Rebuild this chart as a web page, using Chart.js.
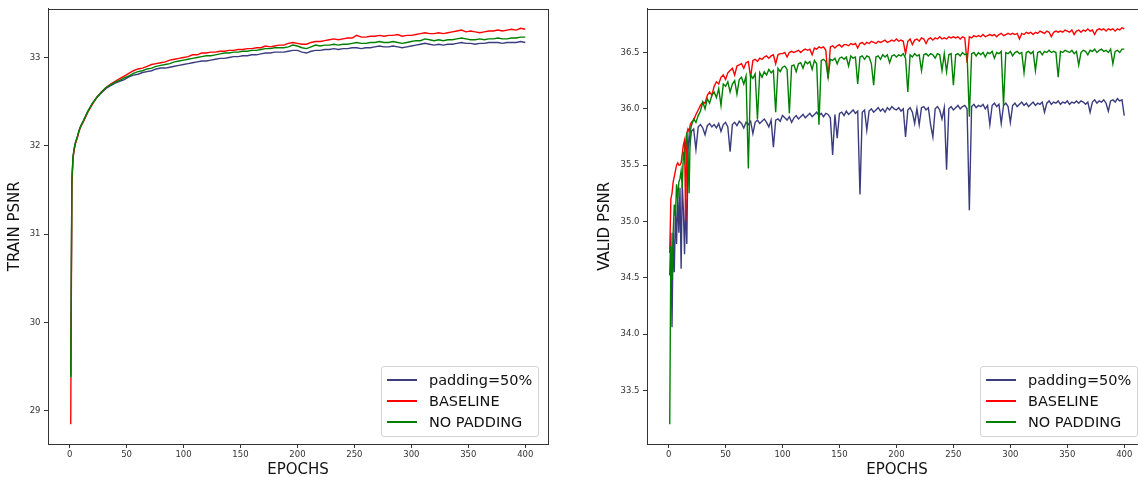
<!DOCTYPE html>
<html>
<head>
<meta charset="utf-8">
<script src="https://cdn.jsdelivr.net/npm/chart.js@4.4.1/dist/chart.umd.min.js"></script>
<style>
  html, body { margin:0; padding:0; background:#fff; width:1138px; height:477px; overflow:hidden; position:relative; }
  canvas { position:absolute; top:0; }
  .legend { position:absolute; border:1px solid #d4d4d4; border-radius:3px; background:rgba(255,255,255,0.85);
            font-family:'DejaVu Sans', sans-serif; font-size:14.5px; color:#111; box-sizing:border-box; }
  .legend .row { position:absolute; left:0; height:20px; white-space:nowrap; }
  .legend .swatch { position:absolute; left:5px; top:9px; width:30px; height:2px; }
  .legend .lbl { position:absolute; left:47px; top:1px; line-height:18px; }
</style>
</head>
<body>
<canvas id="trainChart" width="560" height="477" style="left:0px"></canvas>
<canvas id="validChart" width="570" height="477" style="left:590px"></canvas>
<div id="legTrain" class="legend" style="left:381px; top:366px; width:158px; height:71px;"></div>
<div id="legValid" class="legend" style="left:980px; top:366px; width:158px; height:71px;"></div>
<script>
// ---------- DATA ----------
const seriesNames = ['padding=50%', 'BASELINE', 'NO PADDING'];
const epochTicks = [0, 50, 100, 150, 200, 250, 300, 350, 400];
const trainTicks = [29, 30, 31, 32, 33];
const validTicks = [33.5, 34.0, 34.5, 35.0, 35.5, 36.0, 36.5];

const trainEpochs = [1,2,3,4,5,6,7,8,9,10,
 12,16,20,24,28,32,36,40,44,48,
 52,56,60,64,68,72,76,80,84,88,
 92,96,100,104,108,112,116,120,124,128,
 132,136,140,144,148,152,156,160,164,168,
 172,176,180,184,188,192,196,200,204,208,
 212,216,220,224,228,232,236,240,244,248,
 252,256,260,264,268,272,276,280,284,288,
 292,296,300,304,308,312,316,320,324,328,
 332,336,340,344,348,352,356,360,364,368,
 372,376,380,384,388,392,396,400];

const trainPadding50 = [29.40,31.60,31.87,31.96,32.03,32.07,32.11,32.16,32.20,32.23,
 32.28,32.39,32.48,32.55,32.60,32.65,32.68,32.71,32.73,32.75,
 32.78,32.80,32.81,32.83,32.84,32.85,32.87,32.88,32.88,32.89,
 32.90,32.91,32.92,32.93,32.94,32.95,32.96,32.96,32.97,32.98,
 32.99,32.99,33.00,33.01,33.01,33.02,33.02,33.03,33.03,33.04,
 33.05,33.05,33.06,33.06,33.06,33.07,33.08,33.08,33.06,33.05,
 33.07,33.08,33.08,33.09,33.09,33.10,33.09,33.10,33.10,33.11,
 33.11,33.10,33.11,33.11,33.12,33.13,33.12,33.12,33.13,33.12,
 33.11,33.12,33.13,33.14,33.15,33.16,33.15,33.14,33.15,33.14,
 33.15,33.15,33.16,33.17,33.16,33.16,33.15,33.16,33.16,33.17,
 33.17,33.17,33.16,33.17,33.17,33.17,33.18,33.17];

const trainBaseline = [28.85,31.55,31.86,31.95,32.02,32.06,32.10,32.15,32.19,32.22,
 32.27,32.38,32.47,32.55,32.61,32.66,32.70,32.73,32.76,32.79,
 32.82,32.85,32.87,32.88,32.90,32.92,32.93,32.94,32.95,32.97,
 32.98,32.99,33.00,33.01,33.03,33.03,33.05,33.05,33.06,33.06,
 33.07,33.07,33.08,33.08,33.09,33.09,33.10,33.10,33.11,33.11,
 33.13,33.12,33.13,33.14,33.14,33.16,33.17,33.16,33.15,33.15,
 33.17,33.18,33.18,33.19,33.20,33.21,33.20,33.21,33.22,33.22,
 33.25,33.23,33.23,33.24,33.24,33.25,33.24,33.25,33.25,33.26,
 33.24,33.25,33.25,33.26,33.27,33.28,33.27,33.27,33.28,33.27,
 33.28,33.29,33.30,33.31,33.29,33.30,33.29,33.28,33.29,33.30,
 33.30,33.31,33.30,33.31,33.32,33.31,33.33,33.32];

const trainNoPadding = [29.38,31.60,31.88,31.97,32.03,32.07,32.11,32.16,32.20,32.23,
 32.28,32.39,32.48,32.55,32.61,32.66,32.69,32.72,32.74,32.77,
 32.79,32.82,32.84,32.85,32.87,32.88,32.90,32.91,32.92,32.93,
 32.95,32.96,32.97,32.98,32.99,33.00,33.01,33.02,33.02,33.03,
 33.04,33.05,33.05,33.06,33.06,33.07,33.07,33.08,33.08,33.09,
 33.10,33.10,33.11,33.11,33.11,33.12,33.14,33.13,33.11,33.10,
 33.12,33.14,33.13,33.14,33.14,33.15,33.14,33.15,33.15,33.16,
 33.17,33.16,33.16,33.17,33.17,33.18,33.17,33.17,33.18,33.17,
 33.16,33.17,33.18,33.19,33.19,33.21,33.20,33.19,33.20,33.19,
 33.20,33.20,33.21,33.22,33.21,33.20,33.20,33.21,33.20,33.21,
 33.21,33.22,33.21,33.21,33.22,33.22,33.23,33.23];

const validEpochs = [1,2,3,4,5,6,7,8,9,10,11,12,13,14,15,16,17,18,19,20,
 22,24,26,28,30,32,34,36,38,40,42,44,46,48,50,52,54,56,58,60,
 62,64,66,68,70,72,74,76,78,80,82,84,86,88,90,92,94,96,98,100,
 102,104,106,108,110,112,114,116,118,120,122,124,126,128,130,132,134,136,138,140,
 142,144,146,148,150,152,154,156,158,160,162,164,166,168,170,172,174,176,178,180,
 182,184,186,188,190,192,194,196,198,200,
 202,204,206,208,210,212,214,216,218,220,222,224,226,228,230,232,234,236,238,240,
 242,244,246,248,250,252,254,256,258,260,262,264,266,268,270,272,274,276,278,280,
 282,284,286,288,290,292,294,296,298,300,
 302,304,306,308,310,312,314,316,318,320,322,324,326,328,330,332,334,336,338,340,
 342,344,346,348,350,352,354,356,358,360,362,364,366,368,370,372,374,376,378,380,
 382,384,386,388,390,392,394,396,398,400];

const validPadding50 = [34.52,34.90,34.06,34.90,34.55,35.10,34.80,35.25,34.90,35.30,34.58,35.33,35.10,34.71,35.20,34.80,35.62,35.76,35.70,35.80,
 35.82,35.64,35.84,35.86,35.83,35.77,35.85,35.87,35.84,35.86,
 35.83,35.87,35.80,35.86,35.88,35.84,35.62,35.86,35.88,35.85,
 35.89,35.87,35.83,35.88,35.86,35.89,35.78,35.88,35.90,35.87,
 35.89,35.91,35.88,35.84,35.90,35.66,35.90,35.91,35.89,35.94,
 35.92,35.90,35.93,35.88,35.92,35.94,35.91,35.93,35.95,35.92,
 35.94,35.96,35.93,35.95,35.97,35.94,35.96,35.93,35.96,35.95,
 35.92,35.59,35.95,35.74,35.96,35.97,35.94,35.98,35.95,35.97,
 35.99,35.96,35.98,35.24,35.97,35.99,35.81,35.98,36.00,35.97,
 35.99,36.01,35.98,36.00,35.97,36.01,35.99,36.02,36.00,35.99,
 36.01,35.98,36.00,35.75,35.99,36.01,35.97,35.87,36.00,35.86,
 36.01,36.02,35.99,36.01,35.86,35.75,36.00,36.02,35.99,35.91,
 36.01,35.46,36.00,36.02,35.99,36.01,36.03,36.00,36.02,36.03,
 36.00,35.10,36.02,36.04,36.01,36.03,36.02,36.04,36.00,36.03,
 35.86,36.03,36.05,36.02,36.04,35.87,36.03,36.05,36.02,35.88,
 36.03,36.05,36.02,36.04,36.06,36.03,36.05,36.02,36.04,36.06,
 36.03,36.05,36.04,36.06,35.97,36.05,36.07,36.04,36.06,36.05,
 36.07,36.04,36.06,36.05,36.07,36.04,36.06,36.05,36.07,36.05,
 36.07,36.06,36.04,36.06,35.97,36.06,36.08,36.05,36.07,36.06,
 36.08,36.05,35.98,36.07,36.08,36.06,36.09,36.07,36.08,35.94];

const validBaseline = [34.72,35.20,35.25,35.35,35.40,35.45,35.50,35.52,35.50,35.50,35.52,35.60,35.68,35.72,35.00,35.78,35.82,35.80,35.86,35.88,
 35.90,35.95,35.99,36.03,36.06,36.05,36.12,36.15,36.12,36.20,
 36.24,36.22,36.28,36.30,36.26,36.32,36.34,36.36,36.30,36.38,
 36.39,36.40,36.36,36.41,36.42,36.28,36.43,36.44,36.42,36.45,
 36.44,36.46,36.47,36.45,36.47,36.48,36.40,36.48,36.49,36.49,
 36.50,36.46,36.50,36.51,36.50,36.51,36.52,36.50,36.52,36.53,
 36.52,36.53,36.48,36.54,36.53,36.55,36.54,36.55,36.52,36.27,
 36.55,36.56,36.54,36.56,36.57,36.55,36.57,36.57,36.56,36.58,
 36.57,36.58,36.54,36.58,36.59,36.57,36.59,36.58,36.60,36.59,
 36.58,36.60,36.59,36.60,36.61,36.59,36.60,36.61,36.60,36.62,
 36.60,36.61,36.60,36.49,36.60,36.62,36.57,36.61,36.62,36.60,
 36.63,36.62,36.58,36.62,36.63,36.61,36.63,36.62,36.64,36.62,
 36.63,36.62,36.64,36.63,36.64,36.63,36.64,36.62,36.64,36.63,
 36.41,36.64,36.63,36.65,36.64,36.65,36.64,36.66,36.64,36.65,
 36.66,36.65,36.66,36.64,36.66,36.67,36.65,36.66,36.67,36.66,
 36.67,36.66,36.67,36.62,36.67,36.66,36.68,36.67,36.68,36.66,
 36.68,36.67,36.69,36.68,36.67,36.69,36.68,36.64,36.68,36.69,
 36.68,36.69,36.68,36.70,36.69,36.68,36.70,36.66,36.69,36.70,
 36.68,36.70,36.69,36.71,36.69,36.70,36.66,36.70,36.71,36.70,
 36.71,36.69,36.71,36.70,36.71,36.69,36.71,36.70,36.72,36.71];

const validNoPadding = [33.20,34.78,34.48,34.90,35.15,35.05,35.33,35.20,35.35,35.38,35.45,35.30,35.62,35.55,35.70,35.79,35.60,35.25,35.80,35.85,
 35.91,35.88,35.94,35.98,36.06,36.00,36.09,36.05,36.12,36.15,
 36.10,36.18,36.03,36.22,36.20,36.24,36.15,36.22,36.25,36.13,
 36.26,36.28,36.22,36.29,35.47,36.30,36.27,36.31,35.91,36.32,
 36.28,36.33,36.30,36.35,36.32,36.34,35.97,36.36,36.33,36.37,
 36.38,36.35,35.96,36.38,36.39,36.33,36.40,36.41,36.36,36.42,
 36.40,36.42,36.35,36.43,36.40,35.86,36.43,36.44,36.42,36.28,
 36.44,36.43,36.45,36.40,36.45,36.46,36.44,36.46,36.38,36.47,
 36.45,36.46,36.22,36.46,36.47,36.44,36.47,36.46,36.40,36.21,
 36.46,36.47,36.44,36.48,36.46,36.48,36.41,36.47,36.48,36.46,
 36.48,36.47,36.49,36.45,36.15,36.48,36.46,36.49,36.47,36.48,
 36.34,36.48,36.49,36.47,36.49,36.48,36.45,36.49,36.48,36.34,
 36.49,36.33,36.48,36.49,36.21,36.48,36.49,36.47,36.50,36.48,
 36.49,35.93,36.49,36.50,36.47,36.50,36.48,36.50,36.46,36.50,
 36.49,36.51,36.45,36.50,36.49,36.51,36.03,36.50,36.49,36.51,
 36.47,36.50,36.51,36.49,36.50,36.32,36.50,36.51,36.49,36.51,
 36.34,36.50,36.51,36.48,36.51,36.50,36.52,36.50,36.51,36.50,
 36.28,36.51,36.50,36.52,36.51,36.50,36.52,36.49,36.51,36.39,
 36.50,36.52,36.51,36.48,36.52,36.51,36.53,36.50,36.52,36.53,
 36.51,36.52,36.50,36.53,36.40,36.51,36.52,36.50,36.53,36.53];

const seriesColors = ['#3a3c7e', '#ff0000', '#008000'];

// ---------- CHARTS ----------
[trainPadding50, trainBaseline, trainNoPadding].forEach(a => { if (a.length !== trainEpochs.length) throw new Error('train length ' + a.length + ' vs ' + trainEpochs.length); });
[validPadding50, validBaseline, validNoPadding].forEach(a => { if (a.length !== validEpochs.length) throw new Error('valid length ' + a.length + ' vs ' + validEpochs.length); });

const FONT = "'DejaVu Sans', sans-serif";
const framePlugin = {
  id: 'frame',
  afterDraw(chart) {
    const a = chart.chartArea, ctx = chart.ctx;
    ctx.save();
    ctx.strokeStyle = '#333';
    ctx.lineWidth = 1;
    ctx.strokeRect(Math.round(a.left) + 0.5, Math.round(a.top) + 0.5, Math.round(a.right - a.left), Math.round(a.bottom - a.top));
    ctx.restore();
  }
};

function makeChart(id, epochs, series, yMin, yMax, yTicks, yTitle, yFmt, yWidth, rightPad) {
  const datasets = series.map((s, i) => ({
    label: seriesNames[i],
    data: epochs.map((e, j) => ({ x: e, y: s[j] })),
    borderColor: seriesColors[i],
    borderWidth: 1.4,
    pointRadius: 0,
    tension: 0,
    fill: false,
    order: [2, 1, 0][i]
  }));
  return new Chart(document.getElementById(id), {
    type: 'line',
    data: { datasets },
    options: {
      responsive: false, animation: false, devicePixelRatio: 1,
      layout: { padding: { top: 7, right: rightPad, left: 0, bottom: 0 } },
      plugins: { legend: { display: false }, tooltip: { enabled: false } },
      scales: {
        x: {
          type: 'linear', min: -18.95, max: 419.95,
          afterBuildTicks: sc => { sc.ticks = epochTicks.map(v => ({ value: v })); },
          afterFit: sc => { sc.height = 33; },
          ticks: { font: { family: FONT, size: 8.5 }, color: '#333', padding: 2, maxRotation: 0, autoSkip: false },
          grid: { drawOnChartArea: false, tickLength: 4, color: '#333' },
          border: { color: '#333', width: 1 },
          title: { display: true, text: 'EPOCHS', font: { family: FONT, size: 15, lineHeight: 1 }, color: '#111', padding: { top: 0, bottom: -1 } }
        },
        y: {
          type: 'linear', min: yMin, max: yMax,
          afterBuildTicks: sc => { sc.ticks = yTicks.map(v => ({ value: v })); },
          afterFit: sc => { sc.width = yWidth; },
          ticks: { font: { family: FONT, size: 8.5 }, color: '#333', padding: 3.5, callback: yFmt, autoSkip: false },
          grid: { drawOnChartArea: false, tickLength: 4, color: '#333' },
          border: { color: '#333', width: 1 },
          title: { display: true, text: yTitle, font: { family: FONT, size: 15, lineHeight: 1 }, color: '#111', padding: { top: 8, bottom: 0 } }
        }
      }
    },
    plugins: [framePlugin]
  });
}

makeChart('trainChart', trainEpochs, [trainPadding50, trainBaseline, trainNoPadding],
  28.626, 33.553, trainTicks, 'TRAIN PSNR', v => String(v), 48, 12);
makeChart('validChart', validEpochs, [validPadding50, validBaseline, validNoPadding],
  33.024, 36.89, validTicks, 'VALID PSNR', v => v.toFixed(1), 57, 13);

function buildLegend(id) {
  const el = document.getElementById(id);
  seriesNames.forEach((n, i) => {
    const row = document.createElement('div');
    row.className = 'row';
    row.style.top = (3 + i * 21.2) + 'px';
    row.style.width = '100%';
    const sw = document.createElement('div');
    sw.className = 'swatch';
    sw.style.backgroundColor = seriesColors[i];
    const lb = document.createElement('div');
    lb.className = 'lbl';
    lb.textContent = n;
    row.appendChild(sw); row.appendChild(lb);
    el.appendChild(row);
  });
}
buildLegend('legTrain');
buildLegend('legValid');
</script>
</body>
</html>
